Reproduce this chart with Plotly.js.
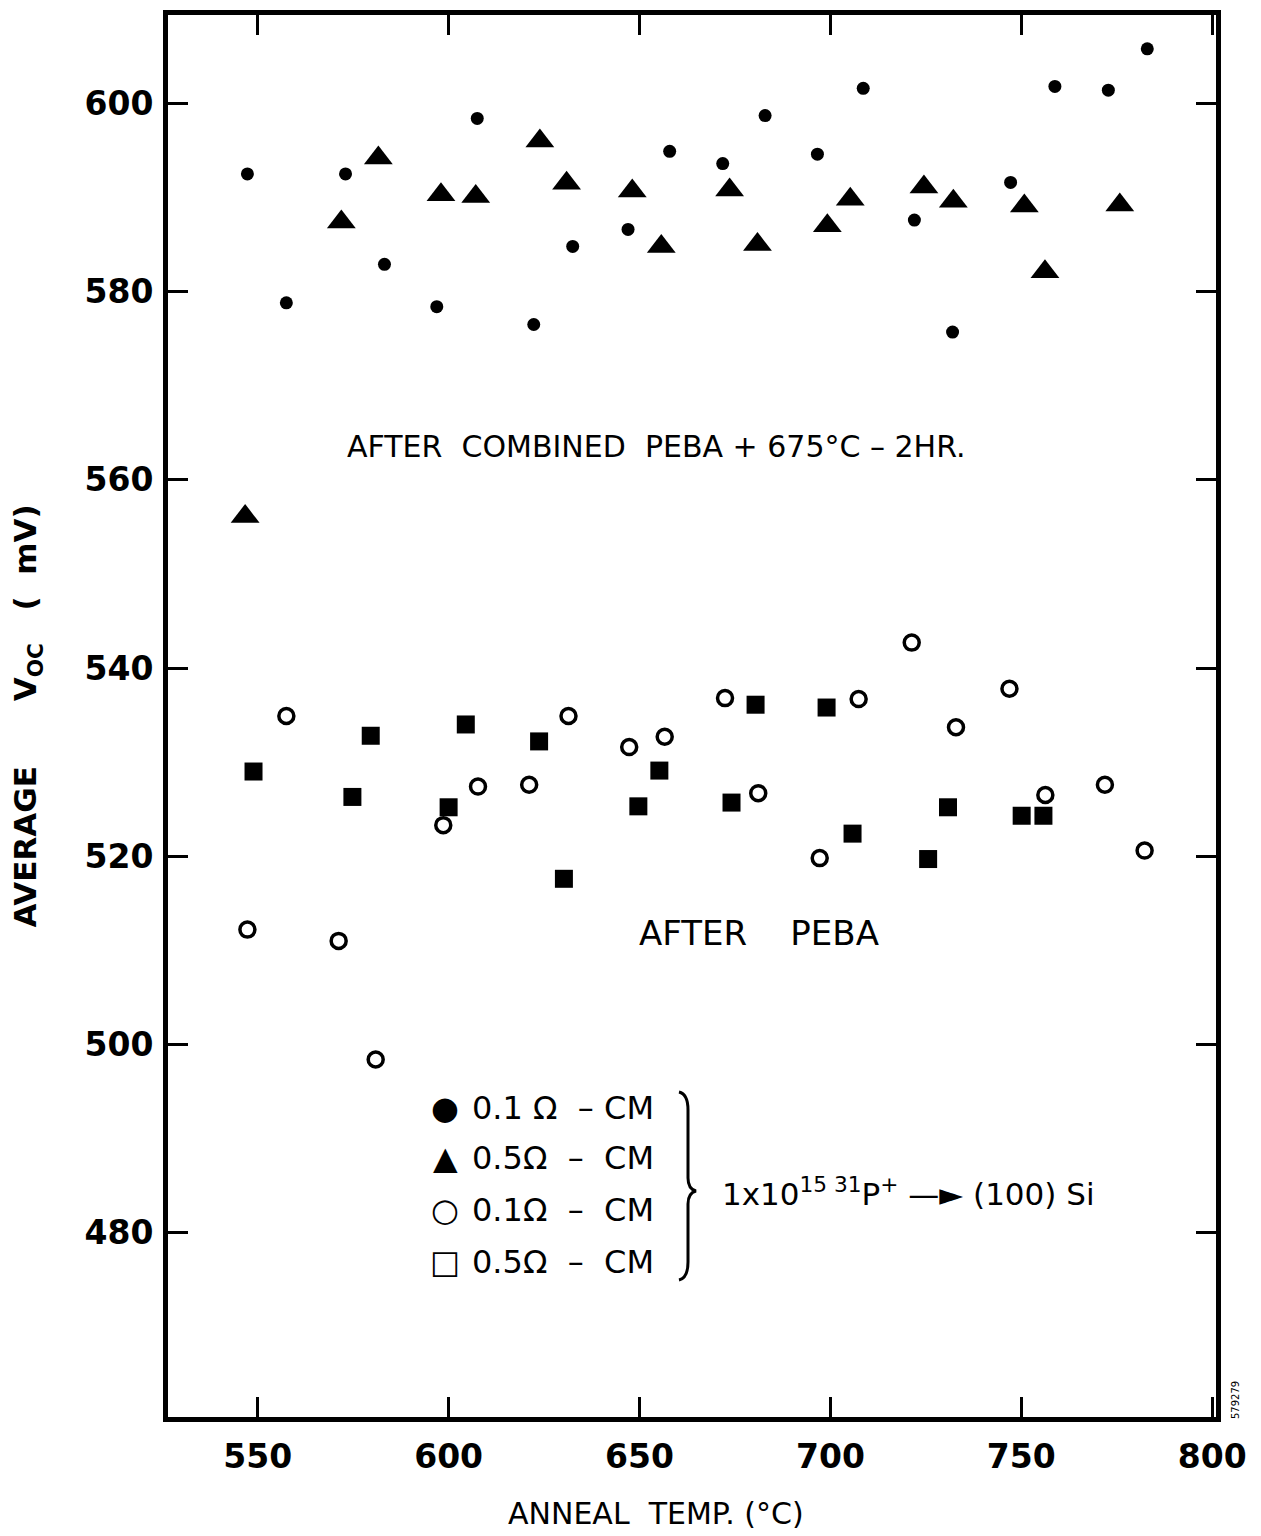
<!DOCTYPE html>
<html><head><meta charset="utf-8">
<script src="https://cdn.plot.ly/plotly-3.0.1.min.js"></script>
<style>body{margin:0;background:#fff}</style>
</head><body><div id="chart" style="width:1261px;height:1536px"></div>
<script>
// After combined PEBA + 675°C - 2HR, 0.1 ohm-cm (filled circles)
const tempCombined01 = [547.3,557.5,573.0,583.2,596.9,607.5,622.3,632.5,647.0,657.9,671.8,682.9,696.6,708.6,722.0,732.0,747.2,758.8,772.8,783.0];
const vocCombined01  = [592.5,578.8,592.5,582.9,578.4,598.4,576.5,584.8,586.6,594.9,593.6,598.7,594.6,601.6,587.6,575.7,591.6,601.8,601.4,605.8];
// After combined, 0.5 ohm-cm (filled triangles)
const tempCombined05 = [546.7,571.9,581.6,598.0,607.1,623.9,630.9,648.1,655.7,673.6,680.9,699.2,705.2,724.5,732.2,750.8,756.2,775.8];
const vocCombined05  = [556.1,587.4,594.2,590.3,590.1,596.0,591.5,590.7,584.8,590.8,585.0,587.0,589.8,591.1,589.6,589.1,582.1,589.2];
// After PEBA, 0.1 ohm-cm (open circles)
const tempPeba01 = [547.3,557.5,571.2,580.9,598.6,607.7,621.1,631.4,647.3,656.6,672.4,681.1,697.2,707.4,721.3,732.9,746.9,756.3,771.9,782.3];
const vocPeba01  = [512.2,534.9,511.0,498.4,523.3,527.4,527.6,534.9,531.6,532.7,536.8,526.7,519.8,536.7,542.7,533.7,537.8,526.5,527.6,520.6];
// After PEBA, 0.5 ohm-cm (squares)
const tempPeba05 = [548.9,574.8,579.6,600.0,604.5,623.7,630.2,649.7,655.2,674.1,680.4,699.0,705.8,725.6,730.8,750.1,755.8];
const vocPeba05  = [529.0,526.3,532.8,525.2,534.0,532.2,517.6,525.3,529.1,525.7,536.1,535.8,522.4,519.7,525.2,524.3,524.3];

const xTicks = [550,600,650,700,750,800];
const yTicks = [480,500,520,540,560,580,600];
const NB = '\u00A0';
const legendLabels = [
  '0.1'+NB+'\u03A9'+NB+NB+'\u2013'+NB+'CM',
  '0.5\u03A9'+NB+NB+'\u2013'+NB+NB+'CM',
  '0.1\u03A9'+NB+NB+'\u2013'+NB+NB+'CM',
  '0.5\u03A9'+NB+NB+'\u2013'+NB+NB+'CM'];
const legendGlyphs = ['\u25CF','\u25B2','\u25CB','\u25A1'];

const FONT = 'DejaVu Sans, Liberation Sans, sans-serif';

const L=168, R=1216, T=15, B=1417;
const px = x => (x-L)/(R-L);
const py = y => (B-y)/(B-T);

const traces = [
  {x: tempCombined01, y: vocCombined01, mode:'markers', type:'scatter', name:'0.1 \u03A9-CM (combined)',
   marker:{symbol:'circle', size:13, color:'#000', line:{width:0}}},
  {x: tempCombined05, y: vocCombined05, mode:'markers', type:'scatter', name:'0.5 \u03A9-CM (combined)',
   marker:{symbol:'triangle-up', size:25, color:'#000', line:{width:0}}},
  {x: tempPeba01, y: vocPeba01, mode:'markers', type:'scatter', name:'0.1 \u03A9-CM (PEBA)',
   marker:{symbol:'circle-open', size:15, color:'#000', line:{width:3.5, color:'#000'}}},
  {x: tempPeba05, y: vocPeba05, mode:'markers', type:'scatter', name:'0.5 \u03A9-CM (PEBA)',
   marker:{symbol:'square', size:18, color:'#000', line:{width:0}}}
];

const ann = [];
ann.push({xref:'paper', yref:'paper', x:px(656), y:py(446),
  text:'AFTER'+NB+NB+'COMBINED'+NB+NB+'PEBA'+NB+'+'+NB+'675\u00B0C'+NB+'\u2013'+NB+'2HR.',
  showarrow:false, xanchor:'center', yanchor:'middle', font:{family:FONT, size:30, color:'#000'}});
ann.push({xref:'paper', yref:'paper', x:px(759), y:py(933), text:'AFTER'+NB+NB+NB+NB+'PEBA',
  showarrow:false, xanchor:'center', yanchor:'middle', font:{family:FONT, size:34, color:'#000'}});
const rowsY = [1108,1158,1210,1262];
for (let i=0;i<4;i++){
  ann.push({xref:'paper', yref:'paper', x:px(445), y:py(rowsY[i]), text:legendGlyphs[i], showarrow:false,
    xanchor:'center', yanchor:'middle', font:{family:FONT, size:32, color:'#000'}});
  ann.push({xref:'paper', yref:'paper', x:px(470), y:py(rowsY[i]), text:legendLabels[i], showarrow:false,
    xanchor:'left', yanchor:'middle', font:{family:FONT, size:32, color:'#000'}});
}
ann.push({xref:'paper', yref:'paper', x:px(720), y:py(1192),
  text:'1x10<sup>15'+NB+'31</sup>P<sup>+</sup>'+NB+'\u2014\u25BA'+NB+'(100)'+NB+'Si',
  showarrow:false, xanchor:'left', yanchor:'middle', font:{family:FONT, size:31, color:'#000'}});
ann.push({xref:'paper', yref:'paper', x:px(1235), y:py(1400), text:'579279', textangle:-90,
  showarrow:false, xanchor:'center', yanchor:'middle', font:{family:FONT, size:10, color:'#000'}});
// x-axis title
ann.push({xref:'paper', yref:'paper', x:px(656), y:py(1513),
  text:'ANNEAL'+NB+NB+'TEMP.'+NB+'(\u00B0C)',
  showarrow:false, xanchor:'center', yanchor:'middle', font:{family:FONT, size:30, color:'#000'}});

const brace = 'M'+px(679)+','+py(1092)+' Q'+px(688)+','+py(1094)+' '+px(688)+','+py(1110)+
  ' L'+px(688)+','+py(1178)+' Q'+px(688)+','+py(1189)+' '+px(696)+','+py(1191)+
  ' Q'+px(688)+','+py(1193)+' '+px(688)+','+py(1204)+' L'+px(688)+','+py(1262)+
  ' Q'+px(688)+','+py(1278)+' '+px(679)+','+py(1280);

const layout = {
  width:1261, height:1536,
  margin:{l:L, r:1261-R, t:T, b:1536-B, pad:0},
  paper_bgcolor:'#fff', plot_bgcolor:'#fff',
  showlegend:false,
  font:{family:FONT, color:'#000'},
  xaxis:{range:[526.5,801.0], tickvals:xTicks, ticktext:xTicks.map(v=>'<b>'+v+'</b>'),
    showgrid:false, zeroline:false, showline:true, linewidth:5, linecolor:'#000', mirror:'ticks',
    ticks:'inside', ticklen:20, tickwidth:3, tickcolor:'#000', ticklabelstandoff:6,
    tickfont:{family:FONT, size:33, color:'#000'}, automargin:false},
  yaxis:{range:[460.41,609.39], tickvals:yTicks, ticktext:yTicks.map(v=>'<b>'+v+'</b>'),
    showgrid:false, zeroline:false, showline:true, linewidth:5, linecolor:'#000', mirror:'ticks',
    ticks:'inside', ticklen:20, tickwidth:3, tickcolor:'#000', ticklabelstandoff:3,
    tickfont:{family:FONT, size:33, color:'#000'}, automargin:false,
    title:{text:'<b>AVERAGE'+NB+NB+NB+NB+NB+NB+'V<sub>OC</sub>'+NB+NB+NB+'('+NB+NB+'mV)</b>', standoff:40, font:{family:FONT, size:31, color:'#000'}}},
  annotations: ann,
  shapes:[{type:'path', xref:'paper', yref:'paper', path:brace, line:{color:'#000', width:3}}]
};

Plotly.newPlot('chart', traces, layout, {displayModeBar:false, staticPlot:true});
</script>
</body></html>
